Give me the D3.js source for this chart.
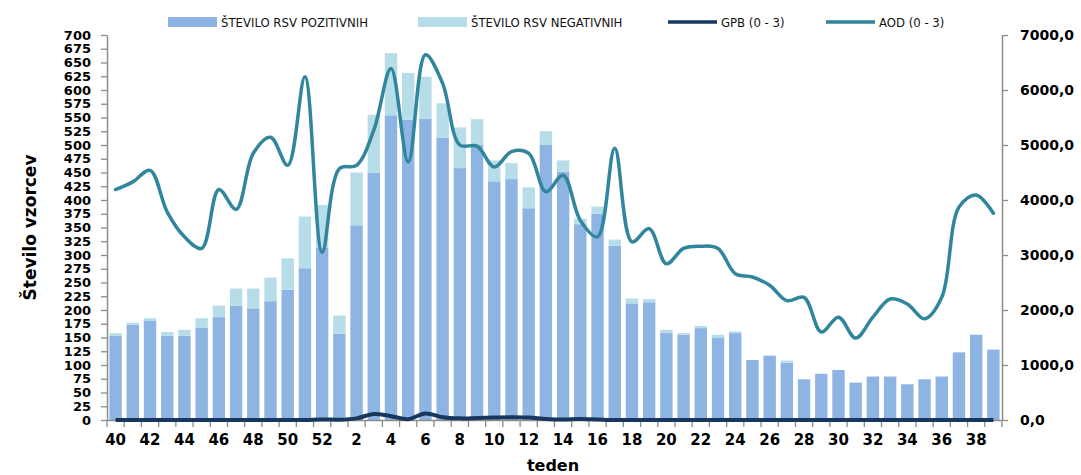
<!DOCTYPE html>
<html>
<head>
<meta charset="utf-8">
<script src="https://cdn.jsdelivr.net/npm/d3@7"></script>
<style>
  body { margin: 0; background: #fff; }
  text { font-family: "DejaVu Sans", Verdana, sans-serif; }
</style>
</head>
<body>
<div class="chart"></div>
<script>
// weeks of the season 40 .. 52, 1 .. 39
const weeks = [40, 41, 42, 43, 44, 45, 46, 47, 48, 49, 50, 51, 52,
    1, 2, 3, 4, 5, 6, 7, 8, 9, 10, 11, 12, 13, 14, 15, 16, 17, 18, 19, 20,
    21, 22, 23, 24, 25, 26, 27, 28, 29, 30, 31, 32, 33, 34, 35, 36, 37, 38, 39];

const positive = [153, 173, 181, 153, 153, 168, 187, 208, 203, 216, 237, 276, 314,
    157, 354, 450, 554, 546, 548, 513, 458, 500, 434, 438, 385, 500, 451, 356, 375,
    317, 212, 214, 158, 155, 167, 149, 158, 109, 117, 104, 74, 84, 91, 68, 79,
    79, 65, 74, 79, 123, 155, 128];

const negative = [5, 4, 4, 7, 11, 17, 21, 31, 36, 43, 57, 94, 77,
    33, 96, 105, 113, 85, 76, 63, 74, 47, 38, 29, 38, 25, 21, 10, 13,
    11, 9, 6, 6, 3, 4, 6, 3, 0, 0, 4, 0, 0, 0, 0, 0,
    0, 0, 0, 0, 0, 0, 0];

const gpb = [0, 0, 0, 0, 0, 0, 0, 0, 0, 0, 0, 0, 10,
    5, 30, 110, 70, 15, 120, 50, 30, 35, 45, 50, 45, 20, 10, 20, 10,
    0, 0, 0, 0, 0, 0, 0, 0, 0, 0, 0, 0, 0, 0, 0, 0,
    0, 0, 0, 0, 0, 0, 0];

const aod = [4190, 4330, 4540, 3780, 3330, 3120, 4190, 3830, 4850, 5140, 4630, 6240, 3050,
    4570, 4630, 5270, 6390, 4690, 6640, 6120, 5000, 4980, 4600, 4880, 4850, 4150, 4450,
    3630, 3330, 4940, 3240, 3480, 2840, 3120, 3160, 3120, 2660, 2600, 2450, 2170, 2230,
    1600, 1870, 1490, 1870, 2200, 2110, 1840, 2230, 3870, 4090, 3760];

const leftTicks = d3.range(0, 701, 25);
const rightTicks = d3.range(0, 7001, 1000);

const width = 1081;
const height = 475;
const margin = {top: 35, right: 79, bottom: 55, left: 107};

const svg = d3.select(".chart")
    .append("svg")
    .attr("width", width)
    .attr("height", height);

const x = d3.scaleBand()
    .domain(weeks)
    .range([margin.left, width - margin.right])
    .paddingInner(0.28)
    .paddingOuter(0.14);

const y = d3.scaleLinear()
    .domain([0, 700])
    .range([height - margin.bottom, margin.top]);

const y2 = d3.scaleLinear()
    .domain([0, 7000])
    .range([height - margin.bottom, margin.top]);

const data = weeks.map((w, i) => ({week: w, pos: positive[i], neg: negative[i], gpb: gpb[i], aod: aod[i]}));

// bars: positive at the bottom, negative stacked on top
svg.append("g")
    .selectAll("rect")
    .data(data)
    .enter()
    .append("rect")
    .attr("x", d => x(d.week))
    .attr("y", d => y(d.pos))
    .attr("width", x.bandwidth())
    .attr("height", d => y(0) - y(d.pos))
    .attr("fill", "#8eb4e3");

svg.append("g")
    .selectAll("rect")
    .data(data.filter(d => d.neg > 0))
    .enter()
    .append("rect")
    .attr("x", d => x(d.week))
    .attr("y", d => y(d.pos + d.neg))
    .attr("width", x.bandwidth())
    .attr("height", d => y(d.pos) - y(d.pos + d.neg))
    .attr("fill", "#b7dee8");

// axes
const axisColor = "#8c8c8c";

const left = svg.append("g")
    .attr("transform", `translate(${margin.left}, 0)`)
    .call(d3.axisLeft(y).tickValues(leftTicks).tickSize(6).tickPadding(10).tickSizeOuter(0));
left.select(".domain").attr("stroke", axisColor).attr("stroke-width", 1.5);
left.selectAll(".tick line").attr("stroke", axisColor).attr("stroke-width", 1.3);
left.selectAll("text").style("font-size", "13px").style("font-weight", "bold").attr("fill", "#000");

const right = svg.append("g")
    .attr("transform", `translate(${width - margin.right}, 0)`)
    .call(d3.axisRight(y2).tickValues(rightTicks).tickSize(6).tickPadding(12).tickSizeOuter(0)
        .tickFormat(d => d3.format(".1f")(d).replace(".", ",")));
right.select(".domain").attr("stroke", axisColor).attr("stroke-width", 1.5);
right.selectAll(".tick line").attr("stroke", axisColor).attr("stroke-width", 1.3);
right.selectAll("text").style("font-size", "14px").style("font-weight", "bold").attr("fill", "#000");

// x axis: labels on every other week, ticks between categories
const bottom = svg.append("g")
    .attr("transform", `translate(0, ${height - margin.bottom})`)
    .call(d3.axisBottom(x).tickValues(weeks.filter((w, i) => i % 2 === 0)).tickSize(0).tickPadding(14).tickSizeOuter(0));
bottom.select(".domain").attr("stroke", axisColor).attr("stroke-width", 1.5);
bottom.selectAll("text").style("font-size", "15px").style("font-weight", "bold").attr("fill", "#000");

const half = (x.step() - x.bandwidth()) / 2;
bottom.selectAll(".sep")
    .data(weeks.concat(["end"]))
    .enter()
    .append("line")
    .attr("x1", d => d === "end" ? x.range()[1] : x(d) - half)
    .attr("x2", d => d === "end" ? x.range()[1] : x(d) - half)
    .attr("y1", 0)
    .attr("y2", 7)
    .attr("stroke", axisColor)
    .attr("stroke-width", 1.3);

// lines on the right axis
const line = d3.line()
    .x(d => x(d.week) + x.bandwidth() / 2)
    .curve(d3.curveCatmullRom.alpha(0.5));

svg.append("path")
    .datum(data)
    .attr("fill", "none")
    .attr("stroke", "#17375e")
    .attr("stroke-width", 4)
    .attr("stroke-linejoin", "round")
    .attr("d", line.y(d => y2(d.gpb)));

svg.append("path")
    .datum(data)
    .attr("fill", "none")
    .attr("stroke", "#31859c")
    .attr("stroke-width", 3.5)
    .attr("stroke-linecap", "round")
    .attr("d", line.y(d => y2(d.aod)));

// titles
svg.append("text")
    .attr("transform", `translate(36, ${(margin.top + height - margin.bottom) / 2}) rotate(-90)`)
    .attr("text-anchor", "middle")
    .style("font-size", "17px")
    .style("font-weight", "bold")
    .text("Število vzorcev");

svg.append("text")
    .attr("x", 553)
    .attr("y", 471)
    .attr("text-anchor", "middle")
    .style("font-size", "16px")
    .style("font-weight", "bold")
    .text("teden");

// legend
const legend = [
    {label: "ŠTEVILO RSV POZITIVNIH", color: "#8eb4e3", type: "rect", x: 168},
    {label: "ŠTEVILO RSV NEGATIVNIH", color: "#b7dee8", type: "rect", x: 418},
    {label: "GPB (0 - 3)", color: "#17375e", type: "line", x: 668},
    {label: "AOD (0 - 3)", color: "#31859c", type: "line", x: 826}
];

const lg = svg.append("g").selectAll("g")
    .data(legend)
    .enter()
    .append("g")
    .attr("transform", d => `translate(${d.x}, 22)`);

lg.filter(d => d.type === "rect")
    .append("rect")
    .attr("x", 0).attr("y", -5)
    .attr("width", 49).attr("height", 10)
    .attr("fill", d => d.color);

lg.filter(d => d.type === "line")
    .append("line")
    .attr("x1", 0).attr("x2", 49)
    .attr("y1", 0).attr("y2", 0)
    .attr("stroke", d => d.color)
    .attr("stroke-width", 3.5);

lg.append("text")
    .attr("x", 53)
    .attr("dy", "0.35em")
    .style("font-family", "'DejaVu Sans Condensed', 'DejaVu Sans', sans-serif")
    .style("font-size", "13px")
    .attr("fill", "#111")
    .text(d => d.label);
</script>
</body>
</html>
